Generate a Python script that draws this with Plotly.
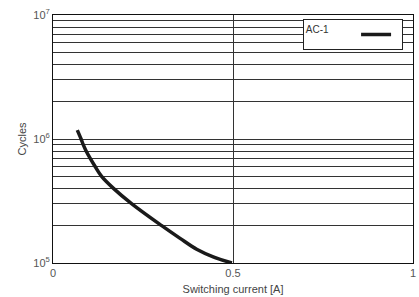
import plotly.graph_objects as go

current = [0.0675, 0.078, 0.084, 0.092, 0.103, 0.117, 0.135, 0.168, 0.219, 0.302, 0.353, 0.399, 0.445, 0.497]
cycles = [1.18e6, 1.0e6, 9.0e5, 8.0e5, 7.0e5, 6.0e5, 5.0e5, 4.0e5, 3.0e5, 2.0e5, 1.58e5, 1.29e5, 1.12e5, 1.0e5]

y_tickvals = [1e5, 2e5, 3e5, 4e5, 5e5, 6e5, 7e5, 8e5, 9e5,
              1e6, 2e6, 3e6, 4e6, 5e6, 6e6, 7e6, 8e6, 9e6, 1e7]
y_ticktext = ["10<sup>5</sup>"] + [""] * 8 + ["10<sup>6</sup>"] + [""] * 8 + ["10<sup>7</sup>"]
x_tickvals = [0, 0.5, 1]
x_ticktext = ["0", "0.5", "1"]

fig = go.Figure()
fig.add_trace(go.Scatter(
    x=current, y=cycles, mode="lines", name="",
    line=dict(color="#1a1a1a", width=3.5, shape="spline", smoothing=1.0),
    showlegend=True,
))

font = "Liberation Sans, Arial, sans-serif"
fig.update_layout(
    width=419, height=297,
    margin=dict(l=53, r=6, t=15, b=34, autoexpand=False),
    paper_bgcolor="white", plot_bgcolor="white",
    font=dict(family=font, size=11, color="#555"),
    showlegend=True,
    legend=dict(
        x=0.694, y=0.984, xanchor="left", yanchor="top",
        bgcolor="white", bordercolor="#222", borderwidth=1,
        title=dict(text="AC-1" + "\u00a0" * 7, side="left",
                   font=dict(size=10, color="#333")),
        font=dict(size=2),
        itemwidth=30,
    ),
)
fig.update_xaxes(
    range=[0, 1], tickvals=x_tickvals, ticktext=x_ticktext,
    showgrid=True, gridcolor="#333", gridwidth=1,
    showline=True, linecolor="#111", linewidth=1, mirror=True,
    ticks="", zeroline=False, automargin=False, ticklabeloverflow="allow",
    title=dict(text="Switching current [A]", font=dict(size=11, color="#444"), standoff=7),
)
fig.update_yaxes(
    type="log", range=[5, 7], tickvals=y_tickvals, ticktext=y_ticktext,
    showgrid=True, gridcolor="#333", gridwidth=1,
    showline=True, linecolor="#111", linewidth=1, mirror=True,
    ticks="", zeroline=False, automargin=False, ticklabeloverflow="allow",
    title=dict(text="Cycles", font=dict(size=11, color="#444"), standoff=4),
)

fig.write_html(
    "out.html",
    config={"displayModeBar": False},
    post_script="document.body.style.margin='0';document.body.style.overflow='hidden';",
)
